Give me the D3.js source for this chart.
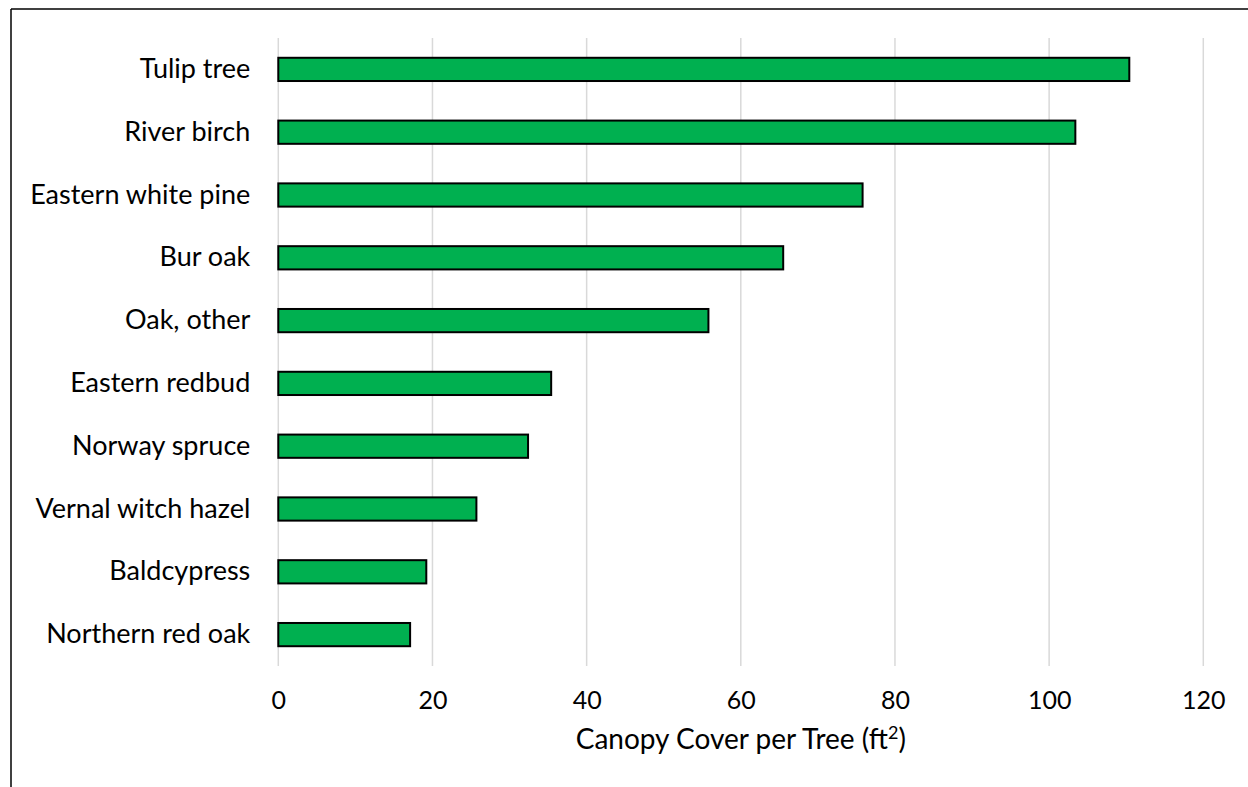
<!DOCTYPE html>
<html>
<head>
<meta charset="utf-8">
<script src="https://cdn.jsdelivr.net/npm/d3@7"></script>
<style>
  html, body { margin: 0; padding: 0; background: #fff; }
  svg { display: block; }
  text { font-family: Lato, "Open Sans", sans-serif; fill: #000; }
</style>
</head>
<body>
<svg id="chart" width="1248" height="787"></svg>
<script>
// Tree species, top to bottom
const species = [
  "Tulip tree", "River birch", "Eastern white pine", "Bur oak", "Oak, other",
  "Eastern redbud", "Norway spruce", "Vernal witch hazel", "Baldcypress", "Northern red oak"
];
// Canopy cover per tree, square feet
const canopy = [110.4, 103.4, 75.8, 65.5, 55.8, 35.4, 32.4, 25.7, 19.2, 17.1];
const xTicks = [0, 20, 40, 60, 80, 100, 120];
const axisTitle = "Canopy Cover per Tree (ft";

const svg = d3.select("#chart");
const W = 1248, H = 787;
const plot = { left: 278.3, right: 1203.3, top: 38, bottom: 666 };
const FONT = "Lato, 'Open Sans', sans-serif";

// frame lines along top and left
svg.append("line").attr("x1", 11).attr("x2", W).attr("y1", 9).attr("y2", 9)
  .attr("stroke", "#000").attr("stroke-width", 1.5);
svg.append("line").attr("x1", 11).attr("x2", 11).attr("y1", 9).attr("y2", H)
  .attr("stroke", "#000").attr("stroke-width", 1.5);

const x = d3.scaleLinear().domain([0, 120]).range([plot.left, plot.right]);
const y = d3.scaleBand().domain(species).range([plot.top, plot.bottom]).paddingInner(0.63).paddingOuter(0.315);

// vertical gridlines
svg.append("g").selectAll("line").data(xTicks).join("line")
  .attr("x1", d => x(d)).attr("x2", d => x(d))
  .attr("y1", plot.top).attr("y2", plot.bottom)
  .attr("stroke", "#d9d9d9").attr("stroke-width", 1.5);

// x tick labels
const xAxis = svg.append("g").attr("transform", `translate(0,${plot.bottom})`)
  .call(d3.axisBottom(x).tickValues(xTicks).tickSize(0).tickPadding(25).tickFormat(d3.format("d")));
xAxis.select(".domain").remove();
xAxis.selectAll("text").style("font-family", FONT).attr("font-size", 25).attr("fill", "#000");

// category labels
const yAxis = svg.append("g").attr("transform", `translate(${plot.left},0)`)
  .call(d3.axisLeft(y).tickSize(0).tickPadding(28));
yAxis.select(".domain").remove();
yAxis.selectAll("text").style("font-family", FONT).attr("font-size", 27).attr("fill", "#000");

// bars
svg.append("g").selectAll("rect").data(species).join("rect")
  .attr("x", x(0))
  .attr("y", d => y(d))
  .attr("width", (d, i) => x(canopy[i]) - x(0))
  .attr("height", y.bandwidth())
  .attr("fill", "#00b050")
  .attr("stroke", "#000").attr("stroke-width", 2);

// axis title with superscript
const t = svg.append("text")
  .attr("x", (plot.left + plot.right) / 2).attr("y", 749)
  .attr("text-anchor", "middle").attr("font-size", 28);
t.append("tspan").text(axisTitle);
t.append("tspan").attr("font-size", 18).attr("dy", -10).text("2");
t.append("tspan").attr("dy", 10).text(")");
</script>
</body>
</html>
